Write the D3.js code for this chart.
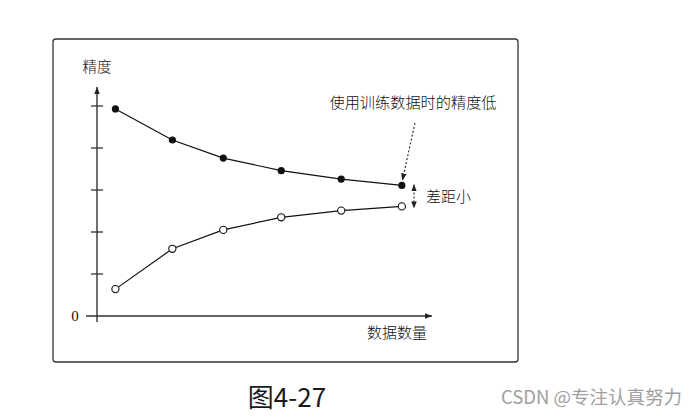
<!DOCTYPE html>
<html><head><meta charset="utf-8">
<script src="https://cdn.jsdelivr.net/npm/d3@7"></script>
<style>
html,body{margin:0;padding:0;background:#fff;}
svg{display:block;}
</style></head>
<body>
<script>
const xValues = [5.5, 22.5, 37.7, 55.0, 72.9, 91.0];
const trainAcc = [4.93, 4.19, 3.76, 3.46, 3.26, 3.11];
const testAcc = [0.64, 1.60, 2.05, 2.35, 2.51, 2.61];
const yTicks = [1, 2, 3, 4, 5];
const yLabel = "精度";
const xLabel = "数据数量";
const zeroLabel = "0";
const noteTop = "使用训练数据时的精度低";
const noteGap = "差距小";
const caption = "图4-27";
const watermark = "CSDN @专注认真努力";

const W = 697, H = 417;
const svg = d3.select("body").append("svg").attr("width", W).attr("height", H);

// frame
svg.append("rect").attr("x", 53).attr("y", 39).attr("width", 465).attr("height", 323)
  .attr("rx", 3).attr("fill", "#fff").attr("stroke", "#333").attr("stroke-width", 1.3);

const x = d3.scaleLinear().domain([0, 100]).range([97, 432]);
const y = d3.scaleLinear().domain([0, 5]).range([316, 106]);

const defs = svg.append("defs");
defs.append("marker").attr("id", "ah").attr("viewBox", "0 0 10 10").attr("refX", 10).attr("refY", 5)
  .attr("markerWidth", 7).attr("markerHeight", 7).attr("markerUnits", "userSpaceOnUse").attr("orient", "auto-start-reverse")
  .append("path").attr("d", "M0,1 L10,5 L0,9 Z").attr("fill", "#222");

const axisColor = "#333";
// y axis
svg.append("line").attr("x1", x(0)).attr("x2", x(0)).attr("y1", y(0) + 6).attr("y2", y(5.45))
  .attr("stroke", axisColor).attr("stroke-width", 1.4).attr("marker-end", "url(#ah)");
// x axis
svg.append("line").attr("x1", x(0) - 11).attr("x2", x(100)).attr("y1", y(0)).attr("y2", y(0))
  .attr("stroke", axisColor).attr("stroke-width", 1.4).attr("marker-end", "url(#ah)");
// ticks
svg.selectAll(".tk").data(yTicks).enter().append("line")
  .attr("x1", x(0) - 6).attr("x2", x(0) + 6).attr("y1", d => y(d)).attr("y2", d => y(d))
  .attr("stroke", axisColor).attr("stroke-width", 1.3);

const serif = "'Liberation Serif','DejaVu Serif','Noto Sans CJK SC',serif";
const cjk = "'Noto Sans CJK SC','Liberation Serif',serif";

svg.append("text").attr("x", 75).attr("y", y(0)).attr("dy", "0.35em").attr("text-anchor", "middle")
  .attr("font-family", serif).attr("font-size", 15).attr("fill", "#111").text(zeroLabel);
svg.append("text").attr("x", 97).attr("y", 67).attr("dy", "0.35em").attr("text-anchor", "middle")
  .attr("font-family", cjk).attr("font-size", 14.5).attr("font-weight", 300).attr("fill", "#111").text(yLabel);
svg.append("text").attr("x", 397).attr("y", 333).attr("dy", "0.35em").attr("text-anchor", "middle")
  .attr("font-family", cjk).attr("font-size", 15).attr("font-weight", 300).attr("fill", "#111").text(xLabel);

const line = d3.line().x((d, i) => x(xValues[i])).y(d => y(d));
svg.append("path").datum(trainAcc).attr("d", line).attr("fill", "none").attr("stroke", "#111").attr("stroke-width", 1.2);
svg.append("path").datum(testAcc).attr("d", line).attr("fill", "none").attr("stroke", "#111").attr("stroke-width", 1.2);

svg.selectAll(".f").data(trainAcc).enter().append("circle")
  .attr("cx", (d, i) => x(xValues[i])).attr("cy", d => y(d)).attr("r", 3.6).attr("fill", "#111");
svg.selectAll(".o").data(testAcc).enter().append("circle")
  .attr("cx", (d, i) => x(xValues[i])).attr("cy", d => y(d)).attr("r", 3.6)
  .attr("fill", "#fff").attr("stroke", "#111").attr("stroke-width", 1.1);

// annotations
const last = xValues.length - 1;
svg.append("text").attr("x", 413).attr("y", 103).attr("dy", "0.35em").attr("text-anchor", "middle")
  .attr("font-family", cjk).attr("font-size", 15.2).attr("font-weight", 300).attr("fill", "#111").text(noteTop);
svg.append("line").attr("x1", 415).attr("y1", 123).attr("x2", x(xValues[last]) + 0.5).attr("y2", y(trainAcc[last]) - 5)
  .attr("stroke", "#222").attr("stroke-width", 1.1).attr("stroke-dasharray", "2,2").attr("marker-end", "url(#ah)");
const gx = 414;
svg.append("line").attr("x1", gx).attr("x2", gx).attr("y1", y(trainAcc[last]) - 1).attr("y2", y(testAcc[last]) + 2)
  .attr("stroke", "#222").attr("stroke-width", 1.1).attr("stroke-dasharray", "2,2")
  .attr("marker-start", "url(#ah)").attr("marker-end", "url(#ah)");
svg.append("text").attr("x", 426).attr("y", 197).attr("dy", "0.35em")
  .attr("font-family", cjk).attr("font-size", 15).attr("font-weight", 300).attr("fill", "#111").text(noteGap);

// caption
svg.append("text").attr("x", 287).attr("y", 398).attr("dy", "0.35em").attr("text-anchor", "middle")
  .attr("font-family", "'Noto Sans CJK SC','Noto Sans',sans-serif").attr("font-size", 26).attr("fill", "#1a1a1a").text(caption);
svg.append("text").attr("x", 682).attr("y", 398).attr("dy", "0.35em").attr("text-anchor", "end")
  .attr("font-family", "'Noto Sans CJK SC','Noto Sans',sans-serif").attr("font-size", 18.5).attr("fill", "#a0a0a0").text(watermark);
</script>
</body></html>
